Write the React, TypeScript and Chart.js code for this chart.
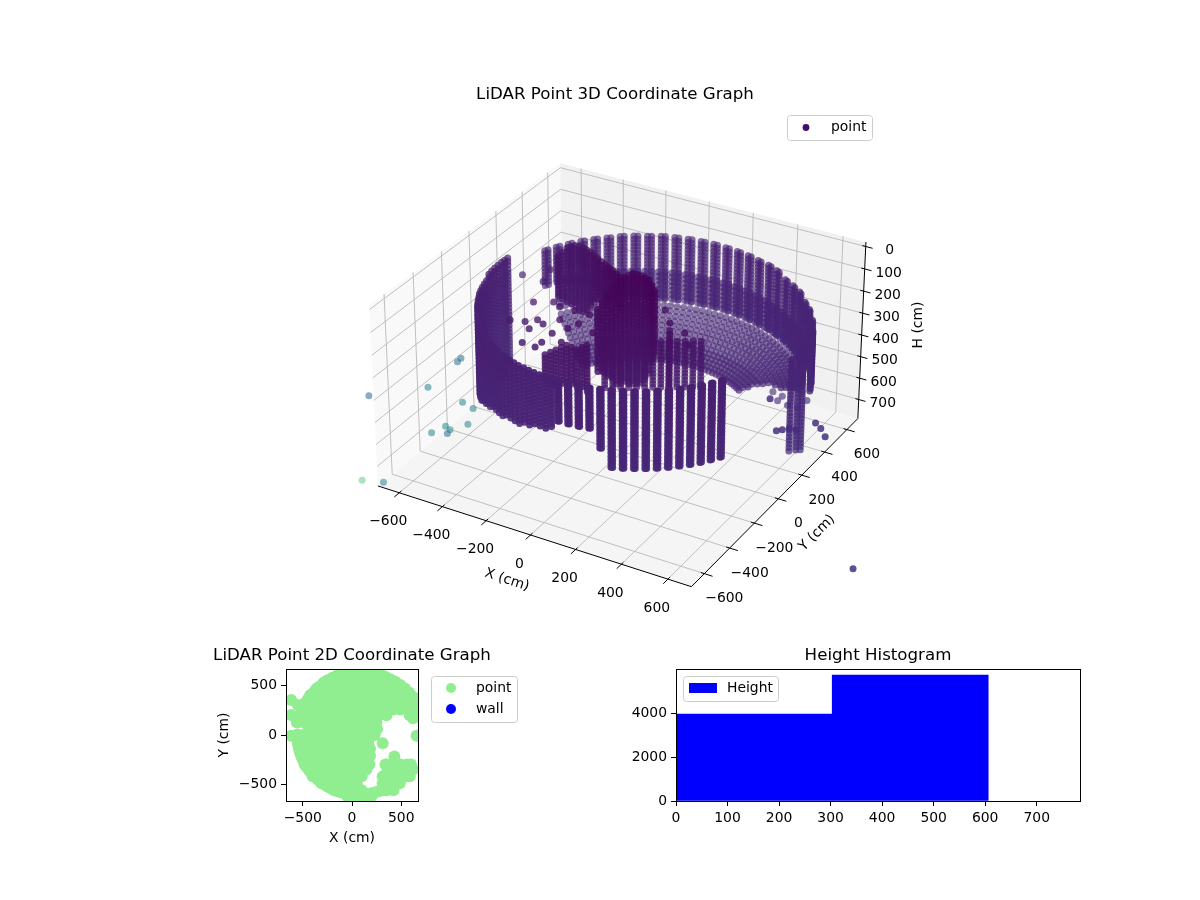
import React, { useEffect, useRef } from "react";
import { Chart, registerables } from "chart.js";

Chart.register(...registerables);

// ---------- data ----------
const xTickValues = [-600, -400, -200, 0, 200, 400, 600];
const yTickValues = [-600, -400, -200, 0, 200, 400, 600];
const hTickValues = [0, 100, 200, 300, 400, 500, 600, 700];

const wallAngle = [155,150,145,140,135,130,125,120,115,110,105,100,95,90,85,80,75,70,65,60,55,50,45,40,35,30,25,20,
  -30,-34,-38,-42,-46,-50,-54,-58,-62,-66,-70,-74,-78,-82,-86,-90,
  -92.5,-95,-97.5,-100,-102.5,-105,-107.5,-110,-112.5,-115,-117.5,-120,-122.5,-125,-127.5,-130,-132.5,-135,-137.5,-140,-142.5,-145,-147.5,-150,-152.5,-155,-157.5,-160,-162.5,-165,-167.5,-170,-172.5,-175,-177.5,180,178,176];
const wallRadius = [630,630,630,630,630,630,635,635,635,640,640,640,640,640,640,640,640,640,645,645,650,655,660,665,670,675,675,675,
  610,610,610,610,610,610,610,610,610,610,610,610,610,610,610,610,
  612,612,612,612,612,612,614,614,614,614,616,616,616,616,618,618,618,618,620,620,620,620,622,622,622,622,624,624,624,624,624,624,624,624,624,624,624,624];
const wallTop = [135,135,135,135,135,135,135,135,135,135,135,135,135,135,135,135,135,135,135,135,140,145,150,155,165,175,185,190,
  135,135,135,135,135,135,135,135,135,135,135,135,135,135,135,135,
  135,135,135,135,135,135,135,135,135,130,130,130,125,125,120,120,115,115,110,110,105,105,100,100,95,95,90,90,85,85,85,80,80,80,80,80,80,80];
const wallBottom = [300,300,320,340,360,380,430,430,430,430,430,430,430,430,430,430,430,430,430,430,430,430,430,430,430,430,430,430,
  470,470,470,470,470,470,470,470,470,470,470,400,320,310,310,310,
  350,360,365,370,378,385,390,397,400,405,408,410,415,420,425,430,440,450,460,470,480,490,500,510,525,540,555,570,580,590,595,600,600,600,600,600,580,560];
// columns of the far wall and the front block are close pairs in the picture
const farWallCount = 28;
const frontBlockCount = 44;
const farTwinOffset = 1.5;
const frontTwinOffset = 0.6;

const bowlAngle = [150,147.5,145,142.5,140,137.5,135,132.5,130,127.5,125,122.5,120,117.5,115,112.5,110,107.5,105,102.5,100,97.5,95,92.5,90,87.5,85,82.5,80,77.5,75,72.5,70,67.5,65,62.5,60,57.5,55,52.5,50,47.5,45,42.5,40,37.5,35,32.5,30,27.5,25,22.5];
const bowlRowCount = [20,20,20,20,20,20,20,20,20,20,20,20,20,20,20,20,20,20,20,20,20,20,20,20,20,20,20,20,20,20,20,20,20,20,20,20,20,20,20,18,16,15,14,13,13,12,12,11,10,9,8,7];
const bowlRadius = [640,640,640,640,640,640,640,625,610,595,580,565,550,535,520,505,490,475,460,445];
const bowlHeight = [300,320,340,360,380,400,420,445,460,475,490,505,520,535,550,560,570,580,590,598];

const blobX = [-324,-327,-330,-321,-313,-295,-276,-254,-232,-205,-179,-153,-128,-103,-78,-51,-24,27,15,3,0,-3,-6,-10,-5,0,19,38,60,81,112,142,
  -143,-134,-126,-117,-109,-84,-59,-50,-42,179,
  -81,-54,-27,0,27,54,82,109,136,163,190,217,244];
const blobY = [56,95,135,152,170,169,168,160,152,135,118,103,89,75,62,45,28,-235,-179,-123,-83,-44,-4,36,60,83,82,81,73,66,34,2,
  -344,-318,-292,-266,-241,-246,-251,-225,-200,57,
  1,18,34,50,66,83,99,115,131,148,164,180,196];
const blobTop = [20,20,20,20,20,20,20,20,20,20,20,20,20,20,20,20,20,20,20,20,20,20,20,20,20,20,20,20,20,20,20,20,
  200,200,200,200,200,200,200,200,200,200,
  300,300,300,300,300,300,300,300,300,300,300,300,300];
const blobBottom = [203,237,271,290,308,312,317,294,271,240,212,207,203,175,148,152,157,294,340,385,420,454,476,499,510,522,515,509,475,440,367,294,
  337,360,383,383,383,378,374,400,428,474,
  520,520,520,520,520,520,520,520,520,520,520,520,520];

const stackX = [630, 650, 665];
const stackY = [220, 240, 250];
const stackTop = [280, 280, 280];
const stackBottom = [710, 710, 710];

const scanLevels = [20,36,52,68,84,100,116,135,150,166,182,198,214,230,246,262,278,294,310,326,342,358,374,390,406,422,438,454,470,486,502,518,534,550,566,582,598,614,630,646,662,678,694,710];

const strayX = [-543,-332,-389,-288,-297,-442,-191,-193,-261,-469,-255,-223,-386,-318,
  95,250,310,162,-194,-126,-159,-143,-142,-209,-277,-58,
  371,420,421,472,522,471,515,420,472];
const strayY = [141,-182,-200,-223,-146,134,-289,-208,-164,236,-328,-101,-31,10,
  173,50,-30,89,-333,-251,-146,-93,-10,-9,-8,-127,
  581,569,652,642,589,516,517,528,725];
const strayH = [200,200,200,200,200,200,200,200,200,200,200,200,200,200,
  200,200,200,200,200,200,200,200,200,200,200,200,
  700,700,700,700,700,700,700,700,700];

const outlierX = [-1033,-863,-872,-875,-676,-613,-565,-634,-654,-597,-603,-693,-614,1223,655,524,541,561,588,632,669,713];
const outlierY = [-266,-89,147,178,-120,-140,-254,-311,-382,-355,-326,-813,-783,-415,-7,317,335,356,363,448,421,372];
const outlierH = [700,700,700,700,700,700,700,700,700,700,700,700,700,700,347,700,700,700,700,700,700,700];
const outlierTone = [0.33,0.45,0.38,0.36,0.45,0.42,0.45,0.48,0.45,0.33,0.48,0.7,0.45,0.14,0.13,0.13,0.13,0.13,0.13,0.14,0.14,0.14];

const planGridX = [-560,-490,-420,-350,-280,-210,-140,-70,0,70,140,210,280,350,420,490,560,630];
const planRowY = [610,540,470,400,330,260,200,130,60,0,-70,-140,-210,-300,-350,-420,-490,-560,-620];
const planLeft = [-100,-270,-360,-425,-470,-507,-530,-550,-440,-550,-545,-530,-510,-480,-440,-400,-310,-180,-50];
const planRight = [300,410,500,565,610,647,350,247,255,230,165,183,183,176,146,98,47,100,200];
const planLeft2 = [0,0,0,0,0,0,586,0,0,0,0,0,0,340,363,312,312,310,0];
const planRight2 = [0,0,0,0,0,0,670,0,0,0,0,0,0,560,620,586,485,420,0];
const planExtraX = [312,430,655,-617,-549,-617,-617,620,660,-560];
const planExtraY = [-85,-217,-7,356,305,203,-7,170,190,130];
const planSkipWall = [176, 178];

const histCenter = [151.5, 454.5];
const histCount = [3950, 5720];
const planXTicks = [-500, 0, 500];
const planYTicks = [-500, 0, 500];
const histXTicks = [0, 100, 200, 300, 400, 500, 600, 700];
const histYTicks = [0, 2000, 4000];

const viridis = [[68,1,84],[72,36,117],[65,68,135],[53,95,141],[42,120,142],[33,145,140],[34,168,132],[68,191,112],[122,209,81],[189,223,38],[253,231,37]];

// ---------- projection ----------
const sensorX = 70, sensorY = 5;
const xLim = [-700, 700], yLim = [-700, 700], hLim = [-20, 790];
const FONT = '"DejaVu Sans"';
const TICK = 13.9;

function view(x: number, y: number, h: number) {
  const dx = ((x - xLim[0]) / (xLim[1] - xLim[0]) - 0.5) * 1.19;
  const dy = ((y - yLim[0]) / (yLim[1] - yLim[0]) - 0.5) * 1.19;
  const dz = ((hLim[1] - h) / (hLim[1] - hLim[0]) - 0.5) * 0.689;
  const u = 0.866 * dx + 0.5 * dy;
  const v = -0.25 * dx + 0.433 * dy + 0.866 * dz;
  const w = 0.433 * dx - 0.75 * dy + 0.5 * dz;
  return { u: u / (10 - w), v: v / (10 - w), w };
}

function tone(t: number, a: number) {
  const p = Math.min(0.999, Math.max(0, t)) * 10;
  const i = Math.floor(p), f = p - i;
  const c = viridis[i].map((s, k) => Math.round(s + (viridis[i + 1][k] - s) * f));
  return `rgba(${c[0]},${c[1]},${c[2]},${a.toFixed(3)})`;
}

type P3 = { x: number; y: number; h: number; t?: number };
function cloud(): P3[] {
  const pts: P3[] = [];
  const col = (x: number, y: number, top: number, bot: number) => {
    for (const h of scanLevels) if (h >= top && h <= bot) pts.push({ x, y, h });
  };
  const polarCol = (deg: number, q: number, top: number, bot: number) => {
    const r = (deg * Math.PI) / 180;
    col(sensorX + q * Math.cos(r), sensorY + q * Math.sin(r), top, bot);
  };
  wallAngle.forEach((a, i) => {
    polarCol(a, wallRadius[i], wallTop[i], wallBottom[i]);
    if (i < farWallCount) polarCol(a + farTwinOffset, wallRadius[i], wallTop[i], wallBottom[i]);
    else if (i < frontBlockCount) polarCol(a + frontTwinOffset, wallRadius[i], wallTop[i], wallBottom[i]);
  });
  bowlAngle.forEach((a, n) => {
    const r = (a * Math.PI) / 180;
    bowlRadius.slice(0, bowlRowCount[n]).forEach((q, k) => pts.push({ x: sensorX + q * Math.cos(r), y: sensorY + q * Math.sin(r), h: bowlHeight[k] }));
  });
  blobX.forEach((x, i) => col(x, blobY[i], blobTop[i], blobBottom[i]));
  stackX.forEach((x, i) => col(x, stackY[i], stackTop[i], stackBottom[i]));
  strayX.forEach((x, i) => pts.push({ x, y: strayY[i], h: strayH[i] }));
  outlierX.forEach((x, i) => pts.push({ x, y: outlierY[i], h: outlierH[i], t: outlierTone[i] }));
  return pts;
}

function planPoints() {
  const out: { x: number; y: number }[] = [];
  planRowY.forEach((y, i) => {
    const spans = [[planLeft[i], planRight[i]], [planLeft2[i], planRight2[i]]];
    spans.forEach(([l, r]) => {
      if (l === r) return;
      out.push({ x: l, y }, { x: r, y });
      planGridX.forEach((x) => { if (x > l && x < r) out.push({ x, y }); });
    });
  });
  planExtraX.forEach((x, i) => out.push({ x, y: planExtraY[i] }));
  wallAngle.forEach((a, i) => {
    if (planSkipWall.includes(a)) return;
    const r = (a * Math.PI) / 180;
    out.push({ x: sensorX + wallRadius[i] * Math.cos(r), y: sensorY + wallRadius[i] * Math.sin(r) });
  });
  return out;
}

const minus = (v: number) => String(v).replace("-", "\u2212");

function legendBox(ctx: CanvasRenderingContext2D, x: number, y: number, w: number, h: number) {
  ctx.save();
  ctx.beginPath();
  ctx.roundRect(x + 0.5, y + 0.5, w, h, 3);
  ctx.fillStyle = "rgba(255,255,255,0.8)";
  ctx.fill();
  ctx.strokeStyle = "#cccccc";
  ctx.lineWidth = 1;
  ctx.stroke();
  ctx.restore();
}

function label(ctx: CanvasRenderingContext2D, s: string, x: number, y: number, size = TICK, rot = 0, align: CanvasTextAlign = "center") {
  ctx.save();
  ctx.translate(x, y);
  if (rot) ctx.rotate((rot * Math.PI) / 180);
  ctx.font = `${size}px ${FONT}`;
  ctx.fillStyle = "#000";
  ctx.textAlign = align;
  ctx.textBaseline = "middle";
  ctx.fillText(s, 0, 0);
  ctx.restore();
}

const frame = {
  id: "frame",
  afterDatasetsDraw(c: any) {
    const { left, right, top, bottom } = c.chartArea;
    const ctx = c.ctx;
    ctx.save();
    ctx.strokeStyle = "#000";
    ctx.lineWidth = 1;
    ctx.strokeRect(Math.round(left) + 0.5, Math.round(top) + 0.5, Math.round(right - left), Math.round(bottom - top));
    ctx.restore();
  },
};

function axis(ticks: number[], min: number, max: number, title?: string): any {
  return {
    type: "linear",
    min,
    max,
    offset: false,
    afterBuildTicks: (s: any) => { s.ticks = ticks.map((value) => ({ value })); },
    ticks: {
      color: "#000",
      font: { family: FONT, size: TICK },
      padding: 4,
      maxRotation: 0,
      autoSkip: false,
      callback: (v: number) => minus(v),
    },
    grid: { offset: false, drawOnChartArea: false, drawTicks: true, tickLength: 5, tickColor: "#000", color: "#000" },
    border: { display: true, color: "#000" },
    title: title
      ? { display: true, text: title, color: "#000", font: { family: FONT, size: TICK }, padding: 0 }
      : { display: false },
  };
}

const panelStyle = (l: number, t: number): React.CSSProperties => ({ position: "absolute", left: l, top: t });

export default function App() {
  const a = useRef<HTMLCanvasElement>(null);
  const b = useRef<HTMLCanvasElement>(null);
  const c = useRef<HTMLCanvasElement>(null);

  useEffect(() => {
    // 3D panel: scales are in projection units
    const S = 3022, X0 = 622.5, Y0 = 363;
    const pts = cloud()
      .map((p) => ({ p, v: view(p.x, p.y, p.h) }))
      .sort((m, n) => m.v.w - n.v.w);
    const colours = pts.map(({ p, v }) => {
      if (p.t !== undefined) return tone(p.t, p.t < 0.2 ? 0.85 : p.t > 0.6 ? 0.45 : 0.55);
      const d = Math.hypot(p.x - sensorX, p.y - sensorY, p.h);
      const norm = Math.min(1, Math.max(0, (v.w + 0.55) / 1.1));
      return tone(d / 7000, 0.55 + 0.42 * norm);
    });

    const scene = {
      id: "scene",
      beforeDatasetsDraw(ch: any) {
        const ctx: CanvasRenderingContext2D = ch.ctx;
        const sx = ch.scales.x, sy = ch.scales.y;
        const at = (x: number, y: number, h: number) => {
          const v = view(x, y, h);
          return [sx.getPixelForValue(v.u), sy.getPixelForValue(v.v)];
        };
        const poly = (pp: number[][], fill: string) => {
          ctx.beginPath();
          pp.forEach(([x, y], i) => (i ? ctx.lineTo(x, y) : ctx.moveTo(x, y)));
          ctx.closePath();
          ctx.fillStyle = fill;
          ctx.fill();
        };
        const seg = (p: number[], q: number[], col: string, w: number) => {
          ctx.beginPath();
          ctx.moveTo(p[0], p[1]);
          ctx.lineTo(q[0], q[1]);
          ctx.strokeStyle = col;
          ctx.lineWidth = w;
          ctx.stroke();
        };
        const [x0, x1] = xLim, [y0, y1] = yLim, [h0, h1] = hLim;
        ctx.save();
        poly([at(x0, y0, h1), at(x1, y0, h1), at(x1, y1, h1), at(x0, y1, h1)], "#f5f5f5");
        poly([at(x0, y0, h1), at(x0, y1, h1), at(x0, y1, h0), at(x0, y0, h0)], "#f9f9f9");
        poly([at(x0, y1, h1), at(x1, y1, h1), at(x1, y1, h0), at(x0, y1, h0)], "#f1f1f1");
        const grid = "#b9b9b9";
        xTickValues.forEach((x) => {
          seg(at(x, y0, h1), at(x, y1, h1), grid, 0.9);
          seg(at(x, y1, h1), at(x, y1, h0), grid, 0.9);
        });
        yTickValues.forEach((y) => {
          seg(at(x0, y, h1), at(x1, y, h1), grid, 0.9);
          seg(at(x0, y, h1), at(x0, y, h0), grid, 0.9);
        });
        hTickValues.forEach((h) => {
          seg(at(x0, y0, h), at(x0, y1, h), grid, 0.9);
          seg(at(x0, y1, h), at(x1, y1, h), grid, 0.9);
        });
        seg(at(x0, y0, h1), at(x1, y0, h1), "#000", 1);
        seg(at(x1, y0, h1), at(x1, y1, h1), "#000", 1);
        seg(at(x1, y1, h1), at(x1, y1, h0), "#000", 1);
        xTickValues.forEach((x) => seg(at(x, y0 + 15, h1), at(x, y0 - 35, h1), "#000", 1));
        yTickValues.forEach((y) => seg(at(x1 - 15, y, h1), at(x1 + 35, y, h1), "#000", 1));
        hTickValues.forEach((h) => seg(at(x1 - 15, y1, h), at(x1 + 30, y1, h), "#000", 1));
        ctx.restore();
      },
      afterDatasetsDraw(ch: any) {
        const ctx: CanvasRenderingContext2D = ch.ctx;
        const sx = ch.scales.x, sy = ch.scales.y;
        const at = (x: number, y: number, h: number) => {
          const v = view(x, y, h);
          return [sx.getPixelForValue(v.u), sy.getPixelForValue(v.v)];
        };
        xTickValues.forEach((x) => {
          const p = at(x, yLim[0], hLim[1]);
          label(ctx, minus(x), p[0] - 11, p[1] + 29);
        });
        yTickValues.forEach((y) => {
          const p = at(xLim[1], y, hLim[1]);
          label(ctx, minus(y), p[0] + 20, p[1] + 25);
        });
        hTickValues.forEach((h) => {
          const p = at(xLim[1], yLim[1], h);
          label(ctx, minus(h), p[0] + 24, p[1] + 4);
        });
        label(ctx, "X (cm)", 507, 580, TICK, 18);
        label(ctx, "Y (cm)", 817, 533, TICK, -45);
        label(ctx, "H (cm)", 918, 325, TICK, -90);
        label(ctx, "LiDAR Point 3D Coordinate Graph", 615, 95, 16.67);
        legendBox(ctx, 787, 115, 85, 25);
        ctx.beginPath();
        ctx.arc(806, 127.5, 3.4, 0, Math.PI * 2);
        ctx.fillStyle = "#440f6b";
        ctx.fill();
        label(ctx, "point", 831, 127, TICK, 0, "left");
      },
    };

    const c3 = new Chart(a.current!, {
      type: "scatter",
      data: {
        datasets: [{
          label: "point",
          data: pts.map(({ v }) => ({ x: v.u, y: v.v })),
          backgroundColor: colours,
          pointRadius: 3.5,
          pointBorderWidth: 0,
        } as any],
      },
      options: {
        animation: false,
        responsive: false,
        layout: { padding: 0 },
        plugins: { legend: { display: false }, title: { display: false }, tooltip: { enabled: false } },
        scales: {
          x: { type: "linear", display: false, min: -X0 / S, max: (1200 - X0) / S },
          y: { type: "linear", display: false, min: -(900 - Y0) / S, max: Y0 / S },
        },
      },
      plugins: [scene],
    });

    const legend2d = {
      id: "legend2d",
      afterDatasetsDraw(ch: any) {
        const ctx: CanvasRenderingContext2D = ch.ctx;
        label(ctx, "LiDAR Point 2D Coordinate Graph", 222, 26, 16.67);
        legendBox(ctx, 301, 46, 86, 46);
        ctx.beginPath();
        ctx.arc(321, 58, 5, 0, Math.PI * 2);
        ctx.fillStyle = "#90ee90";
        ctx.fill();
        ctx.beginPath();
        ctx.arc(321, 79, 5, 0, Math.PI * 2);
        ctx.fillStyle = "#0000ff";
        ctx.fill();
        label(ctx, "point", 346, 58, TICK, 0, "left");
        label(ctx, "wall", 346, 79, TICK, 0, "left");
      },
    };

    const c2 = new Chart(b.current!, {
      type: "scatter",
      data: {
        datasets: [
          { label: "point", data: planPoints(), backgroundColor: "#90ee90", pointRadius: 6, pointBorderWidth: 0, clip: 0 } as any,
          { label: "wall", data: [], backgroundColor: "#0000ff" } as any,
        ],
      },
      options: {
        animation: false,
        responsive: false,
        layout: { padding: { left: 86, right: 156, top: 39, bottom: 13 } },
        plugins: { legend: { display: false }, tooltip: { enabled: false }, title: { display: false } },
        scales: {
          x: { ...axis(planXTicks, -670, 670, "X (cm)"), afterFit: (s: any) => { s.height = 46; } },
          y: { ...axis(planYTicks, -670, 670, "Y (cm)"), afterFit: (s: any) => { s.width = 70; } },
        },
      },
      plugins: [frame, legend2d],
    });

    const legendH = {
      id: "legendH",
      afterDatasetsDraw(ch: any) {
        const ctx: CanvasRenderingContext2D = ch.ctx;
        label(ctx, "Height Histogram", 278, 26, 16.67);
        legendBox(ctx, 83, 46, 95, 25);
        ctx.fillStyle = "#0000ff";
        ctx.fillRect(89, 53, 28, 10);
        label(ctx, "Height", 127, 58, TICK, 0, "left");
      },
    };

    const c1 = new Chart(c.current!, {
      type: "bar",
      data: {
        datasets: [{
          label: "Height",
          data: histCenter.map((x, i) => ({ x, y: histCount[i] })),
          backgroundColor: "#0000ff",
          barThickness: 156,
          borderWidth: 0,
        } as any],
      },
      options: {
        animation: false,
        responsive: false,
        layout: { padding: { left: 0, right: 76, top: 39, bottom: 0 } },
        plugins: { legend: { display: false }, tooltip: { enabled: false }, title: { display: false } },
        scales: {
          x: { ...axis(histXTicks, 0, 784), afterFit: (s: any) => { s.height = 59; } },
          y: { ...axis(histYTicks, 0, 6000), afterFit: (s: any) => { s.width = 76; } },
        },
      },
      plugins: [frame, legendH],
    });

    return () => { c3.destroy(); c2.destroy(); c1.destroy(); };
  }, []);

  return (
    <div style={{ position: "absolute", left: 0, top: 0, width: 1200, height: 900, background: "#fff", overflow: "hidden" }}>
      <canvas ref={a} width={1200} height={900} style={panelStyle(0, 0)} />
      <canvas ref={b} width={444} height={230} style={panelStyle(130, 630)} />
      <canvas ref={c} width={556} height={230} style={panelStyle(600, 630)} />
    </div>
  );
}
